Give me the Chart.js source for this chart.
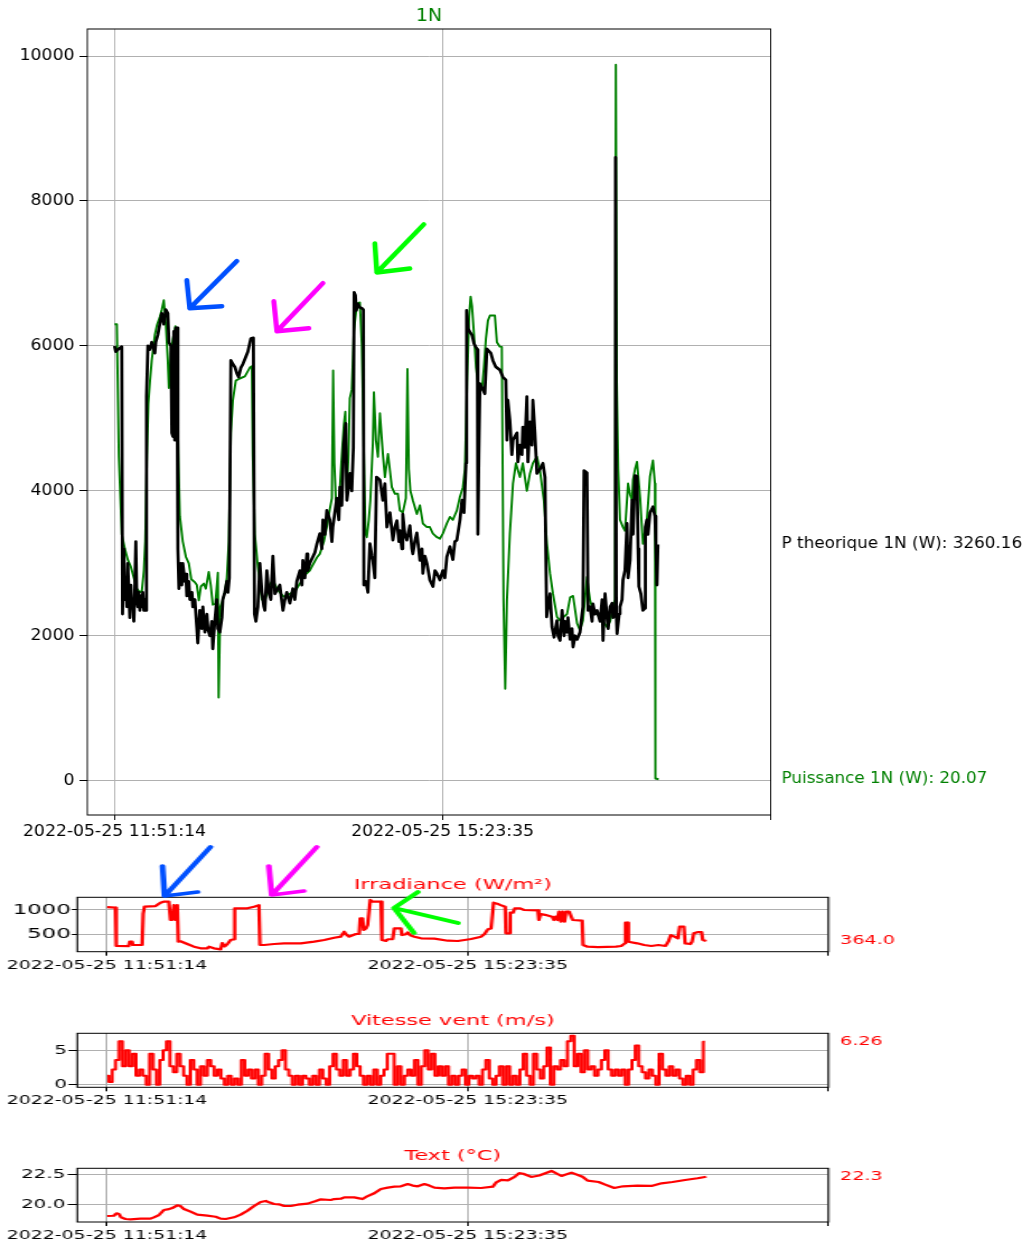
<!DOCTYPE html>
<html>
<head>
<meta charset="utf-8">
<script src="https://cdn.jsdelivr.net/npm/chart.js@4.4.1/dist/chart.umd.min.js"></script>
<style>
    body { margin: 0; background: #fff; width: 1032px; height: 1245px; position: relative; overflow: hidden; }
    canvas { position: absolute; left: 0; }
</style>
</head>
<body>
<canvas id="cMain" width="922" height="850" style="top:0;width:1032px;height:850px"></canvas>
<canvas id="cIrr" width="645" height="140" style="top:840px;width:1032px;height:140px"></canvas>
<canvas id="cWind" width="645" height="115" style="top:1000px;width:1032px;height:115px"></canvas>
<canvas id="cTemp" width="645" height="105" style="top:1140px;width:1032px;height:105px"></canvas>
<script>
// time is in minutes after 2022-05-25 11:51:14
const xTicks = [0, 212.35, 424.7];

// P theorique 1N (W)  [minute, value]
const pTheo = [
    [0.0, 6000], [0.8, 5920], [2.1, 5950], [4.1, 5980], [4.7, 5990], [5.2, 2300], [6.0, 3200], [6.7, 2500], [7.3, 2800], [8.0, 2400],
    [8.6, 3000], [9.3, 2600], [9.9, 2250], [10.6, 2700], [11.2, 2400], [11.8, 2500], [12.5, 2200], [13.1, 2600], [13.8, 3300], [14.4, 2500],
    [15.1, 2400], [15.7, 2600], [16.4, 2350], [17.0, 2550], [17.7, 2400], [18.3, 2600], [19.0, 2350], [19.6, 2500], [20.3, 2350], [20.7, 5300],
    [21.6, 6000], [22.9, 5950], [24.1, 6050], [25.4, 5950], [26.1, 5900], [26.7, 6050], [28.0, 6150], [29.3, 6300], [30.6, 6450], [31.9, 6300],
    [33.2, 6500], [34.5, 6450], [35.2, 6050], [36.5, 6000], [37.1, 4800], [37.8, 4750], [38.4, 6200], [39.0, 4700], [39.7, 6250], [40.4, 6250],
    [41.0, 3200], [41.7, 2650], [42.9, 3000], [43.6, 2700], [44.2, 3000], [45.5, 2750], [46.2, 2850], [46.8, 2550], [48.1, 2750], [48.8, 2500],
    [50.1, 2600], [50.7, 2400], [52.0, 2500], [53.3, 2100], [53.9, 1900], [55.2, 2350], [56.5, 2100], [57.2, 2400], [58.5, 2050], [59.8, 2300],
    [60.4, 2100], [61.7, 2000], [63.0, 2200], [63.6, 1820], [64.9, 2200], [66.2, 2500], [66.9, 2100], [68.2, 2050], [69.5, 2250], [70.1, 2500],
    [71.4, 2600], [72.7, 2750], [73.4, 2600], [74.3, 2800], [75.3, 5800], [76.6, 5750], [77.9, 5710], [79.2, 5620], [80.3, 5570], [81.8, 5700],
    [83.1, 5750], [85.0, 5850], [86.3, 5920], [88.2, 6100], [89.9, 6110], [90.6, 2300], [91.5, 2200], [92.8, 2400], [94.1, 3000], [95.4, 2600],
    [96.7, 2400], [97.3, 2350], [98.6, 2900], [99.9, 2600], [101.2, 2500], [102.5, 3100], [103.8, 2580], [105.7, 2650], [107.0, 2700], [109.0, 2350],
    [110.3, 2500], [111.5, 2600], [113.5, 2450], [115.4, 2650], [116.7, 2500], [118.0, 2750], [120.0, 2900], [121.3, 2700], [121.9, 3040], [123.2, 2800],
    [124.5, 3130], [125.1, 2900], [126.4, 3000], [128.4, 3090], [129.7, 3150], [131.0, 3270], [132.9, 3410], [134.2, 3200], [134.9, 3600], [136.2, 3400],
    [137.4, 3730], [139.4, 3600], [140.7, 3300], [141.3, 3500], [142.6, 3700], [143.9, 3900], [145.2, 3600], [145.9, 4050], [147.1, 3800], [148.4, 4650],
    [149.7, 4930], [150.4, 3870], [151.7, 4100], [152.3, 4240], [153.6, 4000], [154.6, 4600], [155.1, 6740], [155.9, 6700], [156.5, 6490], [157.5, 6580],
    [158.8, 6530], [160.1, 6520], [161.1, 6500], [161.4, 2700], [162.7, 2750], [164.0, 2600], [165.3, 3270], [166.6, 3100], [167.2, 3040], [168.5, 2800],
    [169.6, 4190], [171.8, 4150], [173.7, 3870], [175.0, 4100], [176.3, 3500], [178.3, 3700], [180.2, 3320], [181.5, 3500], [182.8, 3590], [184.1, 3300],
    [184.7, 3450], [186.0, 3200], [186.6, 3680], [187.9, 3400], [189.2, 3320], [191.2, 3520], [192.5, 3200], [193.1, 3130], [194.4, 3300], [195.7, 3420],
    [197.7, 3040], [199.0, 3200], [199.6, 2860], [200.9, 3100], [202.2, 3000], [204.1, 2770], [206.1, 2680], [207.4, 2900], [208.7, 2860], [210.6, 2770],
    [212.5, 2900], [213.8, 2800], [215.1, 3090], [217.1, 3230], [219.0, 3050], [220.3, 3300], [221.6, 3320], [223.6, 3600], [224.9, 3870], [226.2, 3700],
    [227.5, 4380], [227.9, 6490], [228.8, 6240], [230.1, 6190], [231.4, 6150], [232.7, 6030], [234.0, 5980], [234.9, 5950], [235.2, 3400], [235.8, 4500],
    [236.5, 5480], [238.4, 5400], [239.7, 5340], [241.0, 5960], [243.6, 5900], [244.9, 5800], [246.8, 5710], [249.4, 5670], [251.4, 5570], [253.3, 5530],
    [254.0, 4700], [254.6, 5250], [255.9, 4970], [257.2, 4500], [257.9, 4700], [259.2, 4750], [260.5, 4800], [261.1, 4400], [262.4, 4630], [263.7, 4500],
    [264.3, 4880], [265.6, 4600], [266.9, 5300], [267.6, 4400], [268.9, 4950], [270.2, 4630], [270.8, 5250], [272.1, 4800], [273.4, 4240], [275.4, 4300],
    [277.3, 4380], [278.6, 4190], [279.7, 2260], [280.6, 2400], [281.9, 2580], [283.2, 2120], [284.5, 1980], [286.4, 2210], [287.1, 2000], [288.4, 1935],
    [289.7, 2350], [291.0, 2000], [291.6, 2200], [292.9, 2050], [293.5, 2250], [294.9, 1950], [296.1, 2100], [296.8, 1845], [298.1, 2000], [299.4, 1950],
    [301.3, 2050], [302.6, 2300], [303.2, 2400], [303.9, 4280], [305.8, 4250], [306.5, 2350], [307.8, 2400], [309.1, 2200], [309.7, 2440], [311.0, 2300],
    [312.3, 2350], [314.3, 2200], [315.6, 2500], [316.2, 1935], [317.5, 2580], [318.8, 2250], [319.5, 2100], [320.8, 2400], [322.1, 2450], [322.7, 2250],
    [324.0, 2300], [324.3, 8600], [324.8, 2300], [325.3, 2030], [326.6, 2300], [327.2, 2400], [328.5, 2500], [329.1, 2770], [330.4, 2900], [331.7, 3550],
    [332.4, 2800], [333.7, 3040], [335.0, 3870], [335.6, 3400], [336.9, 4210], [338.2, 4200], [338.9, 3200], [339.4, 2680], [340.7, 2580], [342.0, 2350],
    [343.3, 2380], [343.6, 3500], [344.6, 3600], [345.3, 3400], [346.6, 3700], [347.9, 3750], [348.5, 3780], [349.8, 3650], [350.4, 3270], [351.1, 2700],
    [351.7, 3260.16]
];

// Puissance 1N (W)
const puissance = [
    [0.0, 6300], [1.5, 6300], [2.8, 4470], [4.7, 3400], [6.7, 3200], [8.6, 3050], [10.6, 2950], [12.5, 2800], [14.4, 2650], [16.4, 2600],
    [17.7, 2620], [19.0, 2900], [19.9, 3300], [20.9, 4400], [21.9, 5200], [22.9, 5500], [24.1, 5800], [26.1, 6150], [27.4, 6280], [29.3, 6400],
    [30.6, 6500], [31.9, 6630], [33.2, 6300], [34.5, 5800], [35.2, 5420], [36.5, 5900], [37.8, 6100], [39.4, 6270], [40.3, 5500], [41.3, 4500],
    [42.3, 3650], [44.2, 3300], [46.2, 3090], [48.1, 3000], [49.7, 2780], [52.0, 2740], [53.3, 2700], [54.6, 2490], [55.9, 2680], [57.8, 2720],
    [59.1, 2650], [61.0, 2880], [62.3, 2700], [63.6, 2430], [65.3, 2440], [66.9, 2870], [67.4, 1150], [68.5, 2400], [70.1, 2500], [71.4, 2600],
    [72.7, 2800], [74.0, 3300], [75.3, 4800], [76.6, 5250], [78.5, 5520], [81.1, 5550], [84.4, 5580], [87.6, 5700], [88.9, 5720], [89.5, 4500],
    [90.8, 3400], [92.8, 2950], [95.4, 2500], [97.3, 2480], [100.5, 2700], [102.5, 2770], [105.1, 2650], [107.0, 2600], [109.0, 2550], [110.9, 2530],
    [113.5, 2580], [115.4, 2600], [117.4, 2630], [120.0, 2720], [121.9, 2800], [123.9, 2850], [126.4, 2900], [128.4, 2980], [131.0, 3080], [132.9, 3130],
    [135.5, 3300], [137.4, 3500], [139.4, 3750], [140.7, 3900], [141.5, 5660], [142.3, 4380], [143.3, 3870], [145.2, 3780], [146.8, 4380], [148.4, 4900],
    [149.4, 5090], [150.4, 3970], [151.4, 4500], [152.3, 5280], [153.6, 5400], [154.9, 6200], [156.9, 6580], [158.8, 6600], [160.1, 6000], [161.4, 4500],
    [162.4, 3420], [163.3, 3360], [164.6, 3600], [165.6, 3870], [167.2, 4650], [167.9, 5360], [169.2, 4700], [170.5, 4470], [171.8, 5070], [173.7, 4510],
    [175.0, 4190], [177.0, 4510], [177.9, 4350], [179.5, 4050], [181.5, 3960], [183.4, 3960], [184.7, 3730], [186.6, 3700], [188.6, 3900], [189.6, 5680],
    [190.5, 4300], [191.5, 4000], [193.1, 3870], [195.7, 3680], [197.7, 3800], [199.6, 3550], [202.2, 3500], [204.1, 3500], [206.1, 3410], [208.7, 3360],
    [210.6, 3340], [212.5, 3410], [215.1, 3550], [217.1, 3640], [219.0, 3600], [221.6, 3730], [223.6, 3920], [225.5, 4050], [226.8, 4300], [228.2, 5500],
    [229.5, 6400], [230.5, 6680], [231.4, 6550], [232.7, 6150], [234.0, 5700], [235.2, 5500], [236.5, 5450], [237.8, 5400], [239.1, 5700], [240.4, 6100],
    [241.7, 6350], [243.0, 6420], [246.2, 6420], [247.5, 6050], [249.4, 5990], [250.7, 5985], [251.8, 2490], [252.9, 1270], [254.0, 2490], [255.9, 3410],
    [257.9, 4100], [259.8, 4380], [262.4, 4190], [264.3, 4380], [266.9, 4000], [268.9, 4240], [270.8, 4380], [273.4, 4470], [275.4, 4280], [277.9, 3870],
    [279.9, 3270], [281.9, 2860], [283.8, 2580], [286.4, 2260], [288.4, 2210], [290.3, 2250], [292.9, 2300], [294.9, 2530], [296.8, 2550], [299.4, 2170],
    [301.3, 2075], [303.2, 2210], [305.8, 2810], [307.8, 2490], [309.7, 2350], [312.3, 2300], [314.3, 2250], [316.2, 2200], [318.8, 2120], [320.8, 2200],
    [322.7, 2400], [323.9, 2500], [324.5, 9880], [325.1, 5500], [326.0, 4300], [327.2, 3600], [329.1, 3500], [330.4, 3450], [332.4, 4100], [333.7, 3950],
    [335.0, 3870], [335.6, 4150], [336.9, 4300], [338.2, 4400], [340.2, 3900], [342.0, 3270], [344.6, 3600], [346.6, 4200], [348.5, 4420], [349.8, 4100],
    [350.1, 30], [352.2, 20.07]
];

// Irradiance (W/m²)
const irradiance = [
    [0, 1060], [4.9, 1050], [5.3, 259], [12.7, 255], [13.3, 348], [14.7, 348], [15.1, 280], [20.6, 280], [21.2, 918], [22.0, 1068],
    [28.5, 1080], [31.4, 1150], [33.2, 1171], [36.3, 1171], [37.3, 794], [38.3, 794], [39.3, 1100], [40.3, 794], [41.3, 1100], [41.9, 348],
    [43.2, 357], [47.2, 300], [51.1, 245], [55.0, 211], [59.0, 211], [59.9, 245], [62.9, 211], [66.8, 191], [67.8, 320], [69.2, 250],
    [70.8, 300], [72.7, 383], [74.7, 397], [75.1, 1035], [78.6, 1035], [82.6, 1035], [86.5, 1068], [89.4, 1100], [90.0, 280], [92.4, 280],
    [98.3, 300], [104.2, 314], [114.0, 314], [121.9, 348], [127.8, 383], [133.7, 430], [137.6, 451], [139.6, 553], [140.6, 500], [142.5, 451],
    [144.5, 480], [146.5, 506], [148.4, 506], [149.0, 829], [150.4, 829], [151.0, 588], [152.4, 620], [153.4, 691], [154.9, 1206], [156.3, 1171],
    [161.2, 1171], [161.8, 383], [164.2, 364], [165.2, 398], [168.1, 398], [169.1, 623], [173.0, 623], [173.6, 485], [176.0, 500], [177.0, 540],
    [178.5, 480], [180.9, 451], [184.8, 417], [192.7, 410], [200.6, 368], [206.5, 362], [210.4, 383], [214.3, 403], [220.2, 451], [222.2, 506],
    [224.2, 603], [226.1, 620], [227.5, 1150], [229.6, 1130], [231.7, 1100], [234.4, 1068], [234.8, 520], [236.5, 520], [237.3, 945], [239.0, 945],
    [240.0, 1034], [243.2, 1034], [245.3, 1000], [253.6, 994], [254.2, 794], [255.3, 918], [257.8, 900], [262.0, 863], [263.0, 794], [264.0, 863],
    [265.1, 794], [266.1, 966], [267.2, 760], [268.2, 966], [269.3, 760], [270.3, 966], [272.0, 966], [272.8, 900], [274.1, 794], [279.7, 780],
    [280.2, 280], [282.9, 245], [289.1, 238], [299.6, 245], [302.7, 260], [304.8, 314], [305.2, 739], [306.4, 739], [306.9, 348], [312.1, 314],
    [316.2, 280], [320.4, 260], [324.6, 280], [328.8, 260], [330.4, 348], [331.9, 485], [334.0, 451], [336.1, 417], [337.1, 657], [339.6, 657],
    [340.3, 314], [343.4, 300], [344.4, 348], [345.4, 520], [348.0, 545], [350.0, 545], [350.7, 383], [352.8, 364.0]
];

// Vitesse vent (m/s), one reading every 2 minutes
const windStep = 2;
const wind = [
    1.3, 0.4, 2.2, 3.6, 6.3, 2.7, 5.0, 2.7, 4.5, 1.3,
    2.2, 1.3, 0.0, 4.5, 2.2, 0.0, 3.6, 5.0, 6.3, 2.7,
    1.8, 4.5, 2.7, 1.3, 0.0, 3.6, 2.2, 0.0, 2.7, 1.3,
    3.6, 2.7, 1.3, 2.2, 0.9, 0.0, 1.3, 0.0, 0.9, 0.0,
    3.6, 1.3, 2.2, 0.9, 2.2, 0.0, 1.3, 4.5, 2.2, 0.9,
    2.7, 3.6, 5.0, 2.2, 1.3, 0.0, 1.3, 0.0, 1.3, 0.9,
    0.0, 1.3, 0.0, 2.2, 0.9, 0.0, 2.7, 4.5, 2.2, 1.3,
    3.6, 1.3, 2.2, 4.5, 2.7, 1.3, 0.0, 1.3, 0.0, 2.2,
    0.0, 1.3, 2.2, 4.5, 4.5, 0.0, 2.7, 0.0, 1.3, 2.2,
    1.3, 3.6, 0.0, 2.7, 5.0, 2.2, 4.5, 1.3, 2.7, 1.3,
    2.7, 0.0, 1.3, 0.0, 1.3, 2.2, 0.0, 1.3, 0.9, 1.3,
    0.0, 2.2, 3.6, 0.9, 0.0, 1.3, 2.7, 0.0, 2.7, 0.0,
    1.3, 0.0, 2.2, 4.5, 1.3, 0.0, 4.5, 2.2, 0.9, 2.7,
    5.4, 0.0, 2.7, 2.2, 3.6, 2.7, 6.3, 7.1, 2.7, 4.5,
    1.8, 5.0, 2.2, 2.7, 1.3, 2.2, 3.6, 5.0, 2.2, 1.3,
    2.2, 1.3, 2.2, 0.0, 2.2, 3.6, 5.7, 2.7, 1.8, 0.9,
    2.2, 1.3, 0.0, 4.5, 2.2, 1.3, 2.7, 1.3, 2.2, 0.9,
    0.0, 1.3, 0.0, 2.2, 3.6, 1.8, 6.26
];

// Text (°C)
const textTemp = [
    [0, 19.03], [3.9, 19.05], [5.5, 19.25], [6.9, 19.2], [8.2, 18.92], [10.8, 18.78], [13.8, 18.75], [19.6, 18.81], [25.5, 18.81], [27.5, 18.92],
    [30.5, 19.11], [33.4, 19.53], [36.4, 19.6], [38.3, 19.69], [41.3, 19.92], [43.2, 19.86], [45.2, 19.61], [49.1, 19.39], [53.1, 19.14], [59.0, 19.06],
    [63.9, 18.97], [66.8, 18.81], [69.8, 18.78], [74.7, 18.92], [78.6, 19.14], [82.6, 19.47], [86.5, 19.86], [90.4, 20.19], [93.4, 20.28], [95.3, 20.17],
    [98.3, 20.03], [101.2, 20.0], [104.2, 19.86], [108.1, 19.86], [112.1, 19.97], [118.0, 20.06], [122.9, 20.28], [125.8, 20.42], [131.7, 20.36], [133.7, 20.44],
    [137.6, 20.47], [139.6, 20.58], [145.5, 20.58], [148.4, 20.5], [150.4, 20.44], [153.4, 20.69], [157.3, 20.92], [161.2, 21.28], [165.2, 21.39], [169.1, 21.47],
    [173.0, 21.5], [177.0, 21.69], [179.9, 21.56], [182.9, 21.5], [186.8, 21.69], [189.7, 21.56], [192.7, 21.39], [198.6, 21.33], [204.5, 21.39], [212.4, 21.39],
    [220.2, 21.36], [227.1, 21.47], [229.1, 21.83], [232.0, 22.03], [236.0, 22.0], [239.9, 22.28], [242.6, 22.6], [245.0, 22.55], [249.7, 22.28], [254.4, 22.4],
    [261.6, 22.78], [267.5, 22.36], [273.4, 22.64], [279.9, 22.3], [282.9, 21.97], [289.4, 21.86], [293.3, 21.64], [298.6, 21.36], [303.7, 21.5], [312.1, 21.56],
    [320.5, 21.53], [326.4, 21.75], [332.9, 21.86], [340.3, 22.03], [347.6, 22.17], [352.8, 22.3]
];

// hand drawn arrows: tail, tip, head1, head2 (minute, value)
const arrowsMain = [
    {color: '#0050ff', p: [[79.2, 7170], [48.7, 6520], [46.8, 6906], [69.5, 6547]]},
    {color: '#ff00ff', p: [[134.9, 6866], [105.1, 6203], [103.1, 6617], [125.8, 6244]]},
    {color: '#00ff00', p: [[200.2, 7677], [169.8, 7014], [168.5, 7414], [191.2, 7069]]}
];
const arrowsIrr = [
    {color: '#0050ff', p: [[60.9, 2297], [33.8, 1288], [32.6, 1906], [53.3, 1370]]},
    {color: '#ff00ff', p: [[123.5, 2297], [96.9, 1309], [95.2, 1906], [115.8, 1391]]},
    {color: '#00ff00', p: [[206.6, 732], [168.9, 1041], [183.0, 1370], [180.7, 527]]}
];

const FONT = 'DejaVu Sans';

function timeLabel(m) {
    let s = Math.round(11 * 3600 + 51 * 60 + 14 + m * 60);
    const hh = String(Math.floor(s / 3600)).padStart(2, '0');
    const mm = String(Math.floor(s % 3600 / 60)).padStart(2, '0');
    const ss = String(s % 60).padStart(2, '0');
    return '2022-05-25 ' + hh + ':' + mm + ':' + ss;
}

const toXY = arr => arr.map(d => ({x: d[0], y: d[1]}));

const panelText = {
    id: 'panelText',
    afterDraw(chart, args, o) {
        const ctx = chart.ctx, a = chart.chartArea;
        const xs = chart.scales.x, ys = chart.scales.y;
        ctx.save();
        ctx.strokeStyle = '#000';
        ctx.lineWidth = 1;
        ctx.strokeRect(a.left, a.top, a.right - a.left, a.bottom - a.top);

        (o.arrows || []).forEach(ar => {
            const q = ar.p.map(d => [xs.getPixelForValue(d[0]), ys.getPixelForValue(d[1])]);
            ctx.strokeStyle = ar.color;
            ctx.lineWidth = o.arrowWidth;
            ctx.lineCap = 'round';
            ctx.lineJoin = 'round';
            ctx.beginPath();
            ctx.moveTo(q[0][0], q[0][1]);
            ctx.lineTo(q[1][0], q[1][1]);
            ctx.moveTo(q[2][0], q[2][1]);
            ctx.lineTo(q[1][0], q[1][1]);
            ctx.lineTo(q[3][0], q[3][1]);
            ctx.stroke();
        });

        ctx.textBaseline = 'middle';
        ctx.textAlign = 'center';
        ctx.font = o.titleSize + 'px "' + FONT + '"';
        ctx.fillStyle = o.titleColor;
        ctx.fillText(o.title, (a.left + a.right) / 2, a.top - 12);

        ctx.textAlign = 'left';
        ctx.font = o.labelSize + 'px "' + FONT + '"';
        o.labels.forEach(l => {
            ctx.fillStyle = l.color;
            ctx.fillText(l.text, a.right + o.labelGap, ys.getPixelForValue(l.value));
        });
        ctx.restore();
    }
};

function panel(id, p) {
    const cv = document.getElementById(id);
    return new Chart(cv, {
        type: 'line',
        data: {datasets: p.datasets},
        options: {
            responsive: false,
            animation: false,
            devicePixelRatio: 1,
            layout: {padding: {left: 0, top: p.top, right: cv.width - p.right, bottom: 0}},
            elements: {point: {radius: 0}, line: {tension: 0, borderJoinStyle: 'round'}},
            plugins: {
                legend: {display: false},
                tooltip: {enabled: false},
                panelText: p.text
            },
            scales: {
                x: {
                    type: 'linear', bounds: 'data', min: -17.6, max: 424.7,
                    afterBuildTicks: s => { s.ticks = xTicks.map(v => ({value: v})); },
                    afterFit: s => { s.height = cv.height - p.bottom; s.paddingLeft = 0; s.paddingRight = 0; },
                    grid: {color: '#b0b0b0', lineWidth: 1, tickColor: '#000', tickLength: p.xTickLen},
                    border: {display: false},
                    ticks: {
                        autoSkip: false, maxRotation: 0, padding: p.xPad, color: '#000',
                        font: {family: FONT, size: p.xFont},
                        callback: (v, i) => i < 2 ? timeLabel(v) : ''
                    }
                },
                y: {
                    type: 'linear', bounds: 'data', min: p.yMin, max: p.yMax,
                    afterBuildTicks: s => { s.ticks = p.yTicks.map(v => ({value: v})); },
                    afterFit: s => { s.width = p.left; s.paddingTop = 0; s.paddingBottom = 0; },
                    grid: {color: '#b0b0b0', lineWidth: 1, tickColor: '#000', tickLength: p.yTickLen},
                    border: {display: false},
                    ticks: {
                        padding: p.yPad, color: '#000',
                        font: {family: FONT, size: p.yFont},
                        callback: v => p.yFmt(v)
                    }
                }
            }
        },
        plugins: [panelText]
    });
}

const lastOf = arr => arr[arr.length - 1][1];

panel('cMain', {
    left: 78, right: 688.5, top: 29, bottom: 815,
    yMin: -473, yMax: 10373, yTicks: [0, 2000, 4000, 6000, 8000, 10000], yFmt: v => String(v),
    xFont: 15.4, yFont: 15.4, xTickLen: 5, xPad: 3, yTickLen: 7, yPad: 4.5,
    datasets: [
        {data: toXY(pTheo), borderColor: '#000000', borderWidth: 2.8, fill: false},
        {data: toXY(puissance), borderColor: '#008000', borderWidth: 2, fill: false}
    ],
    text: {
        title: '1N', titleColor: '#008000', titleSize: 17, labelSize: 15, labelGap: 9.8,
        arrows: arrowsMain, arrowWidth: 4.5,
        labels: [
            {text: 'P theorique 1N (W): ' + lastOf(pTheo).toFixed(2), value: lastOf(pTheo), color: '#000000'},
            {text: 'Puissance 1N (W): ' + lastOf(puissance).toFixed(2), value: lastOf(puissance), color: '#008000'}
        ]
    }
});

panel('cIrr', {
    left: 48.3, right: 517.8, top: 57.3, bottom: 111.7,
    yMin: 142, yMax: 1261, yTicks: [500, 1000], yFmt: v => String(v),
    xFont: 11.8, yFont: 14.3, xTickLen: 4, xPad: 3, yTickLen: 3.5, yPad: 0.5,
    datasets: [
        {data: toXY(irradiance), borderColor: '#ff0000', borderWidth: 2.2, fill: false}
    ],
    text: {
        title: 'Irradiance (W/m²)', titleColor: '#ff0000', titleSize: 14, labelSize: 12, labelGap: 7.2,
        arrows: arrowsIrr, arrowWidth: 3.6,
        labels: [{text: lastOf(irradiance).toFixed(1), value: lastOf(irradiance), color: '#ff0000'}]
    }
});

panel('cWind', {
    left: 48.3, right: 517.8, top: 33.3, bottom: 87.3,
    yMin: -0.37, yMax: 7.47, yTicks: [0, 5], yFmt: v => String(v),
    xFont: 11.8, yFont: 12.4, xTickLen: 4, xPad: 3, yTickLen: 5.5, yPad: 1,
    datasets: [
        {data: wind.map((v, i) => ({x: i * windStep, y: v})), borderColor: '#ff0000', borderWidth: 2, fill: false, stepped: 'middle'}
    ],
    text: {
        title: 'Vitesse vent (m/s)', titleColor: '#ff0000', titleSize: 14, labelSize: 12, labelGap: 7.2,
        labels: [{text: wind[wind.length - 1].toFixed(2), value: wind[wind.length - 1], color: '#ff0000'}]
    }
});

panel('cTemp', {
    left: 48.3, right: 517.8, top: 28.3, bottom: 82,
    yMin: 18.53, yMax: 23.0, yTicks: [20.0, 22.5], yFmt: v => v.toFixed(1),
    xFont: 11.8, yFont: 12.4, xTickLen: 4, xPad: 3, yTickLen: 6, yPad: 1.5,
    datasets: [
        {data: toXY(textTemp), borderColor: '#ff0000', borderWidth: 2.2, fill: false}
    ],
    text: {
        title: 'Text (°C)', titleColor: '#ff0000', titleSize: 14, labelSize: 12, labelGap: 7.2,
        labels: [{text: lastOf(textTemp).toFixed(1), value: lastOf(textTemp), color: '#ff0000'}]
    }
});
</script>
</body>
</html>
